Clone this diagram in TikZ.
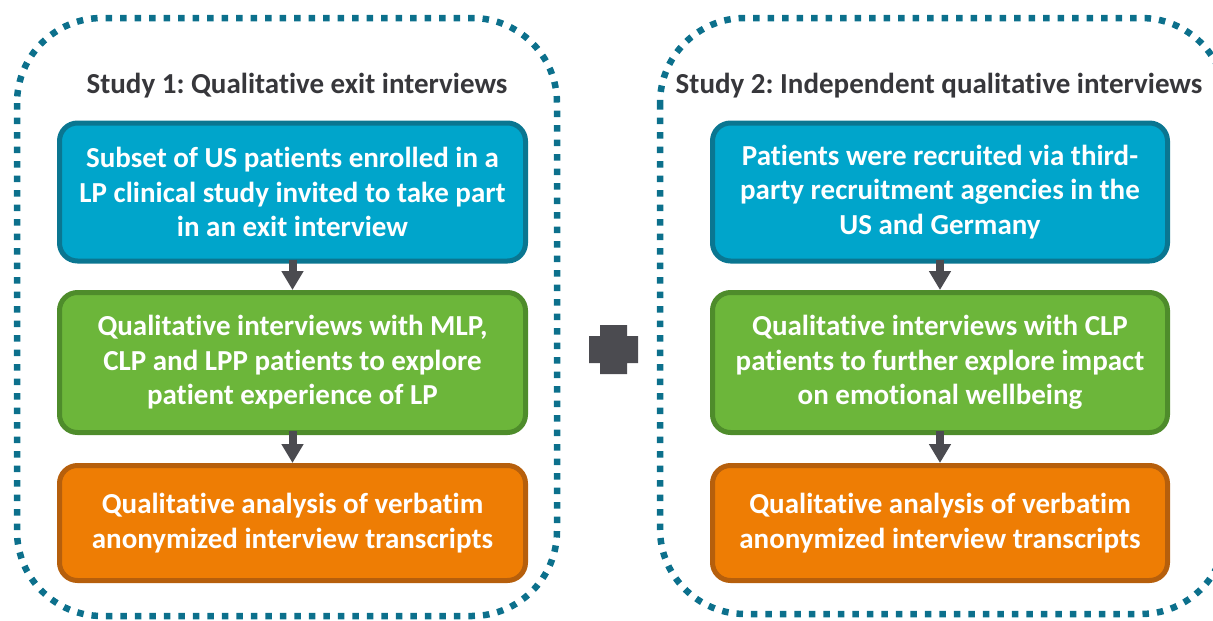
\documentclass[tikz,border=0pt]{standalone}
\usepackage{fontspec}
\setmainfont{Carlito}[Ligatures=NoCommon]
\usetikzlibrary{arrows.meta}
\frenchspacing

\definecolor{frameblue}{RGB}{12,112,140}
\definecolor{bluefill}{RGB}{0,165,203}
\definecolor{blueedge}{RGB}{10,118,145}
\definecolor{greenfill}{RGB}{108,182,58}
\definecolor{greenedge}{RGB}{78,140,43}
\definecolor{orangefill}{RGB}{238,125,4}
\definecolor{orangeedge}{RGB}{182,95,12}
\definecolor{titlegray}{RGB}{55,55,59}
\definecolor{arrowgray}{RGB}{75,75,80}

\tikzset{
  frame/.style={draw=frameblue, line width=6.5pt, dash pattern=on 6.5pt off 8pt,
    rounded corners=85pt},
  heading/.style={text=titlegray, font=\fontsize{29}{34}\selectfont\bfseries,
    inner sep=0pt},
  stepbox/.style={rounded corners=18pt, line width=5pt, text=white,
    align=center, inner sep=0pt,
    font=\fontsize{29}{34.5}\selectfont\bfseries},
  bluebox/.style={stepbox, fill=bluefill, draw=blueedge,
    minimum width=#1, minimum height=138pt},
  greenbox/.style={stepbox, fill=greenfill, draw=greenedge,
    minimum width=#1, minimum height=140pt},
  orangebox/.style={stepbox, fill=orangefill, draw=orangeedge,
    minimum width=#1, minimum height=115pt},
  flow/.style={draw=arrowgray, line width=8pt,
    -{Triangle[width=21pt,length=19pt]}, shorten <=-4pt},
}

\begin{document}
\begin{tikzpicture}[x=1pt,y=-1pt]
\useasboundingbox (0,0) rectangle (1213,621);
\clip (0,0) rectangle (1213,621);

% dotted study frames
\draw[frame] (17,18) rectangle (557,616);
\draw[frame] (660,18) rectangle (1226,614);

% headings
\node[heading] (t1) at (297,86) {Study 1: Qualitative exit interviews};
\node[heading] (t2) at (939,86) {Study 2: Independent qualitative interviews};

% Study 1 steps
\node[bluebox=466pt] (b1) at (292.5,192)
  {Subset of US patients enrolled in a\\LP clinical study invited to take part\\in an exit interview};
\node[greenbox=466pt] (g1) at (292.5,362.5)
  {Qualitative interviews with MLP,\\CLP and LPP patients to explore\\patient experience of LP};
\node[orangebox=466pt] (o1) at (292.5,523)
  {Qualitative analysis of verbatim\\anonymized interview transcripts};

% Study 2 steps
\node[bluebox=455pt] (b2) at (940,192)
  {Patients were recruited via third-\\party recruitment agencies in the\\US and Germany};
\node[greenbox=455pt] (g2) at (940,362.5)
  {Qualitative interviews with CLP\\patients to further explore impact\\on emotional wellbeing};
\node[orangebox=455pt] (o2) at (940,523)
  {Qualitative analysis of verbatim\\anonymized interview transcripts};

% flow arrows
\draw[flow] (b1.south) -- (g1.north);
\draw[flow] (g1.south) -- (o1.north);
\draw[flow] (b2.south) -- (g2.north);
\draw[flow] (g2.south) -- (o2.north);

% plus sign between the studies
\fill[arrowgray] (600,325) -- (627,325) -- (627,336) -- (638,336) -- (638,363)
  -- (627,363) -- (627,374) -- (600,374) -- (600,363) -- (589,363) -- (589,336)
  -- (600,336) -- cycle;
\end{tikzpicture}
\end{document}
